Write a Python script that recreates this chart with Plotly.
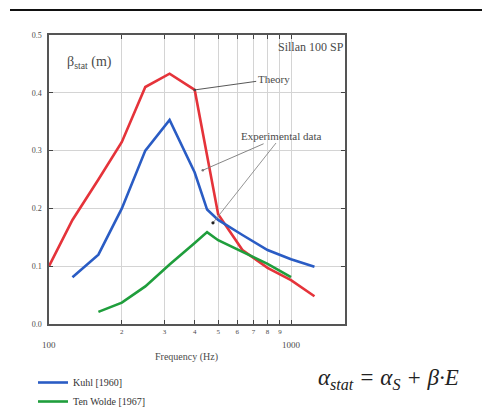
import numpy as np
import plotly.graph_objects as go

# ---- data ----
theory_f = [100, 125, 160, 200, 250, 315, 400, 500, 630, 800, 1000, 1250]
theory_b = [0.10, 0.18, 0.25, 0.315, 0.41, 0.433, 0.405, 0.19, 0.128, 0.097, 0.076, 0.048]

kuhl_f = [125, 160, 200, 250, 315, 400, 450, 500, 630, 800, 1000, 1250]
kuhl_b = [0.081, 0.12, 0.20, 0.30, 0.353, 0.262, 0.198, 0.18, 0.154, 0.128, 0.112, 0.099]

wolde_f = [160, 200, 250, 315, 400, 450, 500, 630, 800, 1000]
wolde_b = [0.021, 0.037, 0.065, 0.103, 0.14, 0.159, 0.145, 0.125, 0.104, 0.081]

x_ticks = [100, 200, 300, 400, 500, 600, 700, 800, 900, 1000]
x_ticktext = [" ", "2", "3", "4", "5", "6", "7", "8", "9", " "]
y_ticks = [0.0, 0.1, 0.2, 0.3, 0.4, 0.5]
y_ticktext = ["0.0", "0.1", "0.2", "0.3", "0.4", "0.5"]

RED = "#e5333a"
BLUE = "#2a5cc4"
GREEN = "#1f9e3c"
TXT = "#4a4a4a"
SERIF = "Liberation Serif, DejaVu Serif, serif"

W, H = 482, 412
L, R, T, B = 49, 345, 35, 324
DECADE = 242
xr = [2, 2 + (R - L) / DECADE]


def px(xp):
    return (xp - L) / (R - L)


def py(yp):
    return (B - yp) / (B - T)


def fx(f):
    return (np.log10(f) - xr[0]) / (xr[1] - xr[0])


def vy(v):
    return v / 0.5


fig = go.Figure()
fig.add_trace(go.Scatter(x=theory_f, y=theory_b, mode="lines", name="Theory",
                         line=dict(color=RED, width=2.6), showlegend=False))
fig.add_trace(go.Scatter(x=kuhl_f, y=kuhl_b, mode="lines", name="Kuhl [1960]",
                         line=dict(color=BLUE, width=2.6)))
fig.add_trace(go.Scatter(x=wolde_f, y=wolde_b, mode="lines", name="Ten Wolde [1967]",
                         line=dict(color=GREEN, width=2.6)))

annotations = [
    dict(xref="paper", yref="paper", x=px(65), y=py(62), xanchor="left", yanchor="middle",
         text="β<sub>stat</sub> (m)", showarrow=False,
         font=dict(family=SERIF, size=14, color=TXT)),
    dict(xref="paper", yref="paper", x=px(346), y=py(47), xanchor="right", yanchor="middle",
         text="Sillan 100 SP", showarrow=False,
         font=dict(family=SERIF, size=12, color=TXT)),
    dict(xref="paper", yref="paper", x=px(49), y=py(345), xanchor="center", yanchor="middle",
         text="100", showarrow=False, font=dict(family=SERIF, size=9, color=TXT)),
    dict(xref="paper", yref="paper", x=px(291), y=py(345), xanchor="center", yanchor="middle",
         text="1000", showarrow=False, font=dict(family=SERIF, size=9, color=TXT)),
    dict(xref="paper", yref="paper", x=px(186), y=py(357), xanchor="center", yanchor="middle",
         text="Frequency (Hz)", showarrow=False, font=dict(family=SERIF, size=10, color=TXT)),
    dict(xref="x", yref="y", x=np.log10(400), y=0.405, ax=79, ay=-11,
         text="Theory", showarrow=True, arrowhead=6, arrowsize=0.7, arrowwidth=0.9,
         arrowcolor="#444", font=dict(family=SERIF, size=11, color=TXT)),
    dict(xref="x", yref="y", x=np.log10(432), y=0.266, ax=78, ay=-34,
         text="Experimental data", showarrow=True, arrowhead=6, arrowsize=0.7, arrowwidth=0.9,
         arrowcolor="#777", font=dict(family=SERIF, size=11, color=TXT)),
    dict(xref="paper", yref="paper", x=px(388), y=py(379), xanchor="center", yanchor="middle",
         text="<i>α<sub>stat</sub> = α<sub>S</sub> + β·E</i>", showarrow=False,
         font=dict(family=SERIF, size=23, color="#222")),
]

# second leader line of "Experimental data" (to the green/blue crossing)
hx, hy = fx(476), vy(0.175)
shapes = [
    dict(type="line", xref="paper", yref="paper", x0=px(10), x1=px(482), y0=py(10), y1=py(10),
         line=dict(color="#111", width=2)),
    dict(type="line", xref="paper", yref="paper", x0=px(276), y0=py(143), x1=hx, y1=hy,
         line=dict(color="#888", width=0.9)),
    dict(type="circle", xref="paper", yref="paper",
         x0=hx - 1.6 / (R - L), x1=hx + 1.6 / (R - L),
         y0=hy - 1.6 / (B - T), y1=hy + 1.6 / (B - T),
         fillcolor="#222", line=dict(color="#222", width=0)),
]

fig.update_layout(
    width=W, height=H,
    margin=dict(l=L, r=W - R, t=T, b=H - B, autoexpand=False),
    paper_bgcolor="white", plot_bgcolor="white",
    font=dict(family=SERIF, color=TXT),
    xaxis=dict(type="log", range=xr, tickvals=x_ticks, ticktext=x_ticktext,
               ticks="inside", ticklen=4, tickcolor="#444", mirror="allticks",
               showline=True, linecolor="#555", linewidth=1.5,
               showgrid=True, gridcolor="#d4d4d4", gridwidth=1,
               tickfont=dict(family=SERIF, size=7, color=TXT), zeroline=False,
               automargin=False),
    yaxis=dict(range=[0, 0.5], tickvals=y_ticks, ticktext=y_ticktext,
               ticks="inside", ticklen=4, tickcolor="#444", mirror="allticks",
               showline=True, linecolor="#555", linewidth=1.5,
               showgrid=True, gridcolor="#d4d4d4", gridwidth=1,
               tickfont=dict(family=SERIF, size=8, color=TXT), zeroline=False,
               ticklabelstandoff=4, automargin=False),
    legend=dict(xref="container", yref="container", x=33 / W, y=1 - 368 / H,
                xanchor="left", yanchor="top",
                font=dict(family=SERIF, size=10, color="#333"),
                bgcolor="rgba(0,0,0,0)", tracegroupgap=0, itemwidth=30),
    annotations=annotations,
    shapes=shapes,
)

fig.write_html("out.html")
